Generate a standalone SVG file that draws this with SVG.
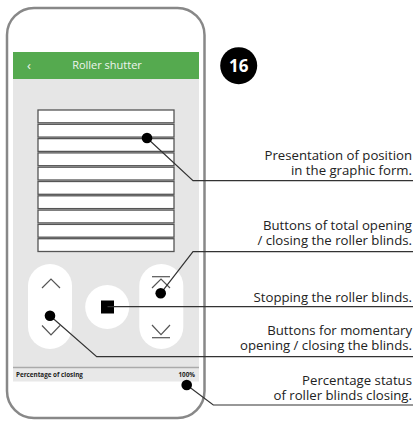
<svg xmlns="http://www.w3.org/2000/svg" width="415" height="421" viewBox="0 0 415 421">
<style>
.lbl{font-family:"Open Sans",sans-serif;font-size:13.2px;fill:#222;text-anchor:end}
.conn{fill:none;stroke:#333;stroke-width:1.2}
.dot{fill:#000}
.slat{fill:#fff;stroke:#555;stroke-width:1.3}
.ico{fill:none;stroke:#555;stroke-width:1.2}
.btn{fill:#fff}
</style>
<rect width="415" height="421" fill="#fff"/>
<g id="phone">
<rect x="7" y="8" width="197.5" height="410" rx="27" ry="27" fill="#fff" stroke="#888" stroke-width="2.5"/>
<rect x="13" y="79" width="186" height="289" fill="#e6e6e6"/>
<rect x="13" y="52" width="186" height="27" fill="#55aa4f"/>
<text x="29" y="69.5" font-family="'Open Sans',sans-serif" font-size="13" fill="#eef5ee" text-anchor="middle">‹</text>
<text x="107" y="69" font-family="'Open Sans',sans-serif" font-size="11" fill="#eef5ee" text-anchor="middle">Roller shutter</text>
</g>
<g id="shutter">
<rect class="slat" x="38" y="110" width="136" height="12.8"/>
<rect class="slat" x="38" y="124.3" width="136" height="12.8"/>
<rect class="slat" x="38" y="138.6" width="136" height="12.8"/>
<rect class="slat" x="38" y="152.9" width="136" height="12.8"/>
<rect class="slat" x="38" y="167.2" width="136" height="12.8"/>
<rect class="slat" x="38" y="181.5" width="136" height="12.8"/>
<rect class="slat" x="38" y="195.8" width="136" height="12.8"/>
<rect class="slat" x="38" y="210.1" width="136" height="12.8"/>
<rect class="slat" x="38" y="224.4" width="136" height="12.8"/>
<rect class="slat" x="38" y="238.7" width="136" height="12.8"/>
</g>
<g id="btn-momentary">
<rect class="btn" x="28" y="264" width="44" height="85" rx="22"/>
<polyline class="ico" points="42,288 51,279 60,288"/>
<polyline class="ico" points="42,325.5 51,335 60,325.5"/>
</g>
<g id="btn-stop">
<circle class="btn" cx="107.2" cy="307" r="22"/>
<rect x="101" y="300.5" width="13" height="13" fill="#000"/>
</g>
<g id="btn-total">
<rect class="btn" x="139.3" y="264" width="44" height="85" rx="22"/>
<line class="ico" x1="152" y1="276.7" x2="170" y2="276.7"/>
<polyline class="ico" points="152,288 161,279 170,288"/>
<polyline class="ico" points="152,325 161,334.7 170,325"/>
<line class="ico" x1="152" y1="337.7" x2="170" y2="337.7"/>
</g>
<g id="status-bar">
<rect x="13" y="368" width="186" height="13.5" fill="#e8e8e8"/>
<line x1="13" y1="367.5" x2="199" y2="367.5" stroke="#aaa" stroke-width="1.5"/>
<text x="16" y="376.5" font-family="'Open Sans',sans-serif" font-size="6.3" font-weight="bold" fill="#222">Percentage of closing</text>
<text x="195" y="376.5" font-family="'Open Sans',sans-serif" font-size="6.3" font-weight="bold" fill="#222" text-anchor="end">100%</text>
</g>
<g id="badge">
<circle cx="238.7" cy="65.7" r="18.5" fill="#000"/>
<text x="238.7" y="72" font-family="'Open Sans',sans-serif" font-size="17" font-weight="bold" fill="#fff" text-anchor="middle">16</text>
</g>
<g id="connectors">
<polyline class="conn" points="147,138 193,180.7 413,180.7"/>
<polyline class="conn" points="160.7,293.3 193,251.7 413,251.7"/>
<polyline class="conn" points="107.5,306.7 413,306.7"/>
<polyline class="conn" points="50,315.7 96.7,356.7 413,356.7"/>
<polyline class="conn" points="186.7,385 213.3,405 413,405"/>
<circle class="dot" cx="147" cy="138" r="5.3"/>
<circle class="dot" cx="160.7" cy="293.3" r="5.3"/>
<circle class="dot" cx="50" cy="315.7" r="5.3"/>
<circle class="dot" cx="186.7" cy="385" r="5.3"/>
</g>
<g id="labels">
<text class="lbl" x="412" y="160">Presentation of position</text>
<text class="lbl" x="412" y="174.5">in the graphic form.</text>
<text class="lbl" x="412" y="230">Buttons of total opening</text>
<text class="lbl" x="412" y="245">/ closing the roller blinds.</text>
<text class="lbl" x="412" y="301.5">Stopping the roller blinds.</text>
<text class="lbl" x="412" y="335">Buttons for momentary</text>
<text class="lbl" x="412" y="350">opening / closing the blinds.</text>
<text class="lbl" x="412" y="385">Percentage status</text>
<text class="lbl" x="412" y="399.5">of roller blinds closing.</text>
</g>
</svg>
